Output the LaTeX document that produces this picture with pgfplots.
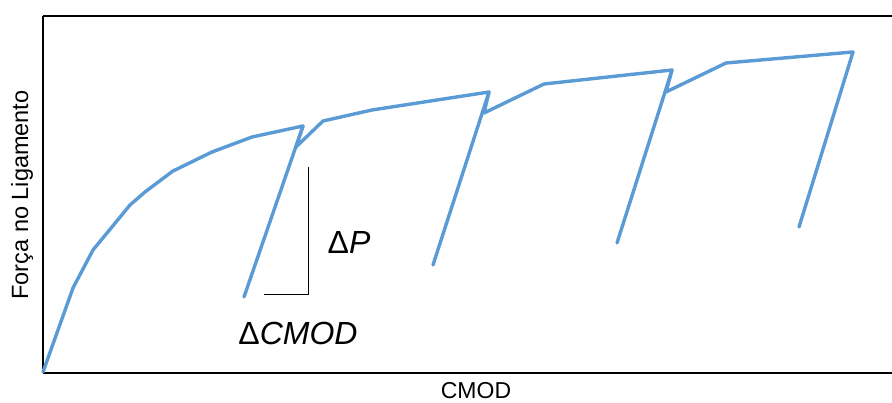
\documentclass[border=0pt]{standalone}
\usepackage{pgfplots}
\pgfplotsset{compat=1.18}
\usepackage{fontspec}
\setmainfont{Liberation Sans}
\definecolor{lineblue}{HTML}{5B9BD5}
\begin{document}
\begin{tikzpicture}
\begin{axis}[
  at={(43bp,30bp)}, anchor=south west,
  scale only axis, width=849bp, height=357bp,
  xmin=0, xmax=849, ymin=0, ymax=357,
  axis x line=box, axis y line=left,
  axis line style={-, black, line width=1.1bp},
  xtick=\empty, ytick=\empty,
  clip=false,
]
\addplot[lineblue, line width=3.4bp, line join=round, line cap=round] coordinates {
(0,1) (30,85) (50,123) (87,168) (102,181) (130,202) (169,221) (209,236) (260,247)
(253,226) (280,252) (329,263) (446,281)
(441,260) (501,289) (629,303)
(623,281) (683,310) (810,321)
};
\addplot[lineblue, line width=3.4bp, line cap=round] coordinates {(260,247) (201,76)};
\addplot[lineblue, line width=3.4bp, line cap=round] coordinates {(446,281) (390,108)};
\addplot[lineblue, line width=3.4bp, line cap=round] coordinates {(629,303) (574,130)};
\addplot[lineblue, line width=3.4bp, line cap=round] coordinates {(810,321) (756,146)};
\addplot[black, line width=0.9bp] coordinates {(265,206) (265,79) (221,79)};
\node[font=\fontsize{32bp}{36bp}\selectfont] at (axis cs:306,131) {Δ\textit{P}};
\node[font=\fontsize{32bp}{36bp}\selectfont] at (axis cs:255,40) {Δ\textit{CMOD}};
\node[font=\fontsize{23bp}{28bp}\selectfont] at (axis cs:433,-18) {CMOD};
\node[font=\fontsize{23.5bp}{28bp}\selectfont, rotate=90] at (axis cs:-21,178) {Força no Ligamento};
\end{axis}
\pgfresetboundingbox
\useasboundingbox (0,0) rectangle (892bp,403bp);
\end{tikzpicture}
\end{document}
